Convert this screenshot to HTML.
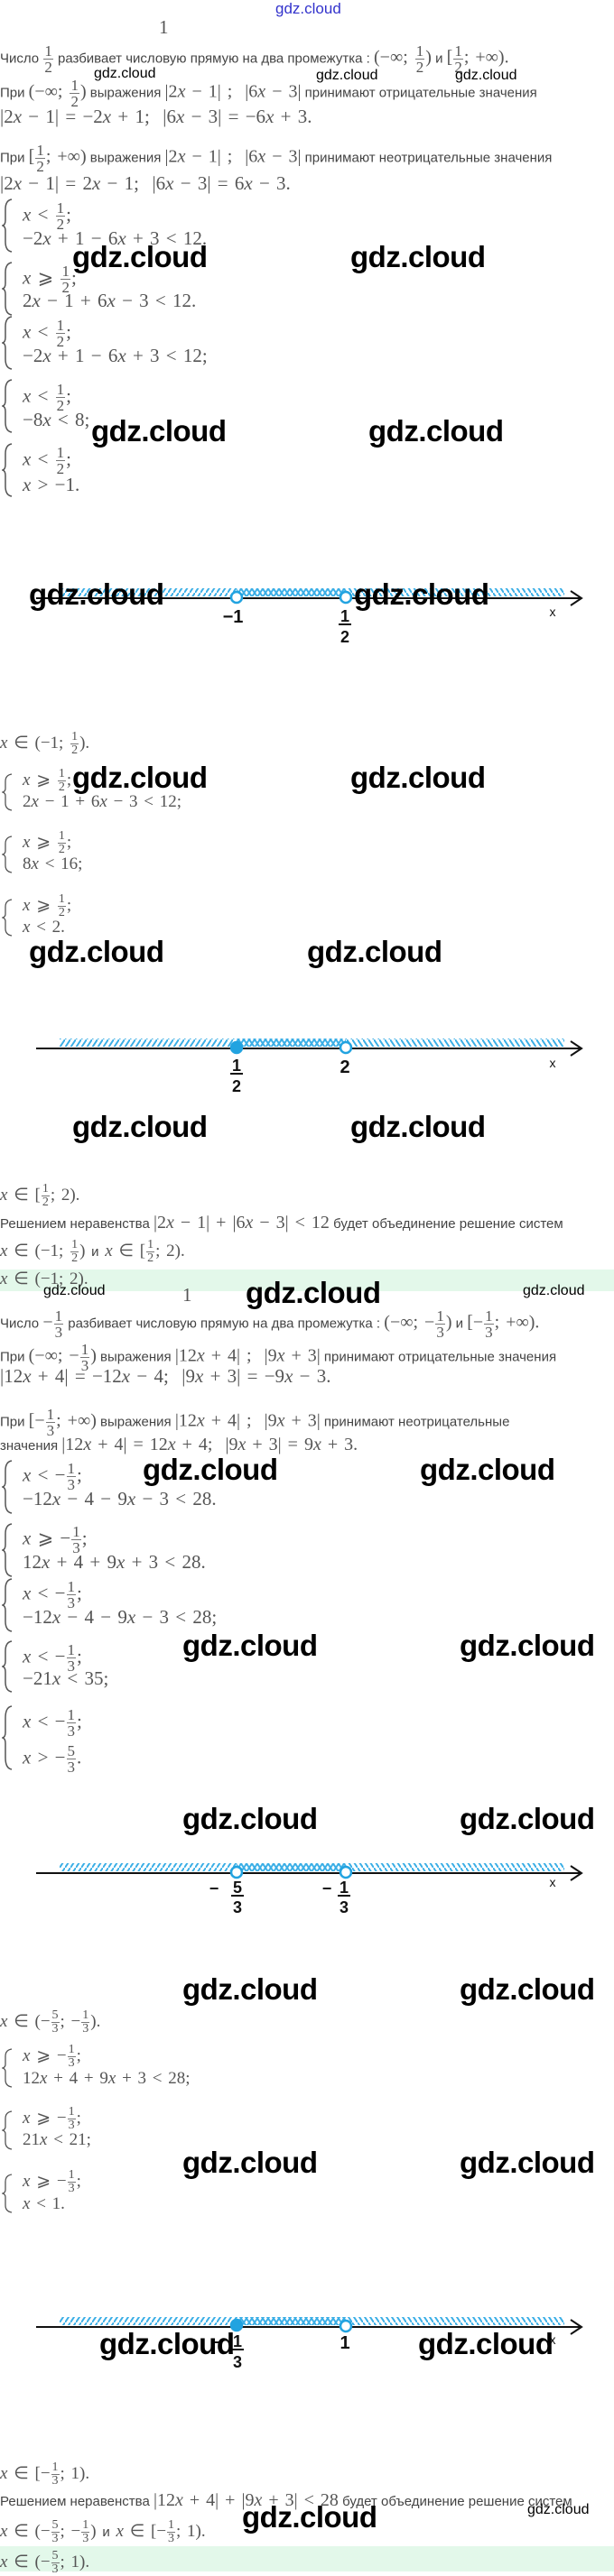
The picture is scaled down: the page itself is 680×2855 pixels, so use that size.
<!DOCTYPE html>
<html><head><meta charset="utf-8">
<style>
body{margin:0;width:680px;height:2850px;background:#fff;position:relative;overflow:hidden}
.a{position:absolute;white-space:nowrap}
.t{font:15px "Liberation Sans",sans-serif;color:#444}
.m{font-family:"Liberation Serif",serif;font-size:21px;color:#555;word-spacing:2px}
.t .m{font-size:20px}
.i{font-style:italic}
.f{display:inline-block;vertical-align:middle;text-align:center;font-family:"Liberation Serif",serif;font-size:17px;line-height:17px;color:#555;margin:0 1px}
.f span{display:block;padding:0 1px}
.f span:first-child{border-bottom:1px solid #777}
.s{font-size:19px!important}
.s .f{font-size:14px;line-height:14px}
.wb{font:bold 33px "Liberation Sans",sans-serif;color:#000;letter-spacing:-0.5px}
.ws{font:16px "Liberation Sans",sans-serif;color:#000}
.g{position:absolute;left:0;width:680px;background:#e3f8ea}
.br{position:absolute;left:2px}
</style></head><body>

<div class="a" style="left:305px;top:0;font:17px 'Liberation Sans',sans-serif;color:#33c">gdz.cloud</div>
<div class="a m" style="left:176px;top:18px">1</div>

<div class="a t" style="left:0;top:48px">Число <span class="f"><span>1</span><span>2</span></span> разбивает числовую прямую на два промежутка : <span class="m">(−∞; </span><span class="f"><span>1</span><span>2</span></span><span class="m">)</span> и <span class="m">[</span><span class="f"><span>1</span><span>2</span></span><span class="m">; +∞).</span></div>
<div class="a t" style="left:0;top:86px">При <span class="m">(−∞; </span><span class="f"><span>1</span><span>2</span></span><span class="m">)</span> выражения <span class="m">|2<i>x</i> − 1| ;&nbsp; |6<i>x</i> − 3|</span> принимают отрицательные значения</div>
<div class="a m" style="left:0;top:117px">|2<i>x</i> − 1| = −2<i>x</i> + 1;&nbsp; |6<i>x</i> − 3| = −6<i>x</i> + 3.</div>
<div class="a t" style="left:0;top:158px">При <span class="m">[</span><span class="f"><span>1</span><span>2</span></span><span class="m">; +∞)</span> выражения <span class="m">|2<i>x</i> − 1| ;&nbsp; |6<i>x</i> − 3|</span> принимают неотрицательные значения</div>
<div class="a m" style="left:0;top:191px">|2<i>x</i> − 1| = 2<i>x</i> − 1;&nbsp; |6<i>x</i> − 3| = 6<i>x</i> − 3.</div>

<svg class="br" style="top:220px" width="14" height="60"><path d="M11 1 Q4 2 4 12 L4 24 Q4 29 1 30 Q4 31 4 36 L4 48 Q4 58 11 59" fill="none" stroke="#555" stroke-width="1.5"/></svg>
<div class="a m" style="left:25px;top:222px"><i>x</i> &lt; <span class="f"><span>1</span><span>2</span></span>;</div>
<div class="a m" style="left:25px;top:252px">−2<i>x</i> + 1 − 6<i>x</i> + 3 &lt; 12.</div>

<svg class="br" style="top:290px" width="14" height="60"><path d="M11 1 Q4 2 4 12 L4 24 Q4 29 1 30 Q4 31 4 36 L4 48 Q4 58 11 59" fill="none" stroke="#555" stroke-width="1.5"/></svg>
<div class="a m" style="left:25px;top:292px"><i>x</i> ⩾ <span class="f"><span>1</span><span>2</span></span>;</div>
<div class="a m" style="left:25px;top:321px">2<i>x</i> − 1 + 6<i>x</i> − 3 &lt; 12.</div>

<svg class="br" style="top:350px" width="14" height="60"><path d="M11 1 Q4 2 4 12 L4 24 Q4 29 1 30 Q4 31 4 36 L4 48 Q4 58 11 59" fill="none" stroke="#555" stroke-width="1.5"/></svg>
<div class="a m" style="left:25px;top:352px"><i>x</i> &lt; <span class="f"><span>1</span><span>2</span></span>;</div>
<div class="a m" style="left:25px;top:382px">−2<i>x</i> + 1 − 6<i>x</i> + 3 &lt; 12;</div>

<svg class="br" style="top:420px" width="14" height="60"><path d="M11 1 Q4 2 4 12 L4 24 Q4 29 1 30 Q4 31 4 36 L4 48 Q4 58 11 59" fill="none" stroke="#555" stroke-width="1.5"/></svg>
<div class="a m" style="left:25px;top:423px"><i>x</i> &lt; <span class="f"><span>1</span><span>2</span></span>;</div>
<div class="a m" style="left:25px;top:453px">−8<i>x</i> &lt; 8;</div>

<svg class="br" style="top:491px" width="14" height="60"><path d="M11 1 Q4 2 4 12 L4 24 Q4 29 1 30 Q4 31 4 36 L4 48 Q4 58 11 59" fill="none" stroke="#555" stroke-width="1.5"/></svg>
<div class="a m" style="left:25px;top:493px"><i>x</i> &lt; <span class="f"><span>1</span><span>2</span></span>;</div>
<div class="a m" style="left:25px;top:525px"><i>x</i> &gt; −1.</div>

<div class="a ws" style="left:104px;top:73px">gdz.cloud</div>
<div class="a ws" style="left:350px;top:75px">gdz.cloud</div>
<div class="a ws" style="left:504px;top:75px">gdz.cloud</div>
<div class="a wb" style="left:80px;top:266px">gdz.cloud</div>
<div class="a wb" style="left:388px;top:266px">gdz.cloud</div>
<div class="a wb" style="left:101px;top:459px">gdz.cloud</div>
<div class="a wb" style="left:408px;top:459px">gdz.cloud</div>

<svg class="a" style="left:0;top:0" width="680" height="2850">
<defs>
<pattern id="p1" patternUnits="userSpaceOnUse" width="6" height="9"><line x1="0" y1="9" x2="6" y2="0" stroke="#3aaee6" stroke-width="2"/></pattern>
<pattern id="p2" patternUnits="userSpaceOnUse" width="6" height="9"><line x1="0" y1="0" x2="6" y2="9" stroke="#3aaee6" stroke-width="2"/></pattern>
</defs>
<g font-family="Liberation Sans,sans-serif" font-weight="bold" fill="#111">
<rect x="66" y="652" width="317" height="9" fill="url(#p1)"/>
<rect x="262" y="652" width="363" height="9" fill="url(#p2)"/>
<line x1="40" y1="663" x2="644" y2="663" stroke="#111" stroke-width="2"/>
<polyline points="632,655 644,663 632,671" fill="none" stroke="#111" stroke-width="2"/>
<circle cx="262" cy="662" r="6" fill="#fff" stroke="#22a3e0" stroke-width="2.5"/>
<circle cx="383" cy="662" r="6" fill="#fff" stroke="#22a3e0" stroke-width="2.5"/>
<text x="258" y="690" font-size="20" text-anchor="middle">−1</text>
<text x="382" y="689" font-size="18" text-anchor="middle">1</text><line x1="375" y1="692" x2="389" y2="692" stroke="#111" stroke-width="2"/><text x="382" y="712" font-size="18" text-anchor="middle">2</text>
<text x="612" y="683" font-size="14" font-weight="normal" text-anchor="middle">x</text>

<rect x="66" y="1151" width="317" height="9" fill="url(#p1)"/>
<rect x="262" y="1151" width="363" height="9" fill="url(#p2)"/>
<line x1="40" y1="1162" x2="644" y2="1162" stroke="#111" stroke-width="2"/>
<polyline points="632,1154 644,1162 632,1170" fill="none" stroke="#111" stroke-width="2"/>
<circle cx="262" cy="1161" r="6" fill="#22a3e0" stroke="#22a3e0" stroke-width="2.5"/>
<circle cx="383" cy="1161" r="6" fill="#fff" stroke="#22a3e0" stroke-width="2.5"/>
<text x="262" y="1187" font-size="18" text-anchor="middle">1</text><line x1="255" y1="1190" x2="269" y2="1190" stroke="#111" stroke-width="2"/><text x="262" y="1210" font-size="18" text-anchor="middle">2</text>
<text x="382" y="1189" font-size="20" text-anchor="middle">2</text>
<text x="612" y="1183" font-size="14" font-weight="normal" text-anchor="middle">x</text>

<rect x="66" y="2065" width="317" height="9" fill="url(#p1)"/>
<rect x="262" y="2065" width="363" height="9" fill="url(#p2)"/>
<line x1="40" y1="2076" x2="644" y2="2076" stroke="#111" stroke-width="2"/>
<polyline points="632,2068 644,2076 632,2084" fill="none" stroke="#111" stroke-width="2"/>
<circle cx="262" cy="2075" r="6" fill="#fff" stroke="#22a3e0" stroke-width="2.5"/>
<circle cx="383" cy="2075" r="6" fill="#fff" stroke="#22a3e0" stroke-width="2.5"/>
<text x="237" y="2099" font-size="18" text-anchor="middle">−</text>
<text x="263" y="2098" font-size="18" text-anchor="middle">5</text><line x1="256" y1="2101" x2="270" y2="2101" stroke="#111" stroke-width="2"/><text x="263" y="2120" font-size="18" text-anchor="middle">3</text>
<text x="362" y="2099" font-size="18" text-anchor="middle">−</text>
<text x="381" y="2098" font-size="18" text-anchor="middle">1</text><line x1="374" y1="2101" x2="388" y2="2101" stroke="#111" stroke-width="2"/><text x="381" y="2120" font-size="18" text-anchor="middle">3</text>
<text x="612" y="2091" font-size="14" font-weight="normal" text-anchor="middle">x</text>

<rect x="66" y="2568" width="317" height="9" fill="url(#p1)"/>
<rect x="262" y="2568" width="363" height="9" fill="url(#p2)"/>
<line x1="40" y1="2579" x2="644" y2="2579" stroke="#111" stroke-width="2"/>
<polyline points="632,2571 644,2579 632,2587" fill="none" stroke="#111" stroke-width="2"/>
<circle cx="262" cy="2577" r="6" fill="#22a3e0" stroke="#22a3e0" stroke-width="2.5"/>
<circle cx="383" cy="2578" r="6" fill="#fff" stroke="#22a3e0" stroke-width="2.5"/>
<text x="240" y="2602" font-size="18" text-anchor="middle">−</text>
<text x="263" y="2601" font-size="18" text-anchor="middle">1</text><line x1="256" y1="2604" x2="270" y2="2604" stroke="#111" stroke-width="2"/><text x="263" y="2624" font-size="18" text-anchor="middle">3</text>
<text x="382" y="2603" font-size="20" text-anchor="middle">1</text>
<text x="612" y="2598" font-size="14" font-weight="normal" text-anchor="middle">x</text>
</g>
</svg>

<div class="a wb" style="left:32px;top:640px">gdz.cloud</div>
<div class="a wb" style="left:392px;top:640px">gdz.cloud</div>

<div class="a m s" style="left:0;top:810px"><i>x</i> ∈ (−1; <span class="f"><span>1</span><span>2</span></span>).</div>
<svg class="br" style="top:857px" width="14" height="42"><path d="M11 1 Q4 2 4 9 L4 17 Q4 20 1 21 Q4 22 4 25 L4 33 Q4 40 11 41" fill="none" stroke="#555" stroke-width="1.3"/></svg>
<div class="a m s" style="left:25px;top:851px"><i>x</i> ⩾ <span class="f"><span>1</span><span>2</span></span>;</div>
<div class="a m s" style="left:25px;top:878px">2<i>x</i> − 1 + 6<i>x</i> − 3 &lt; 12;</div>
<svg class="br" style="top:926px" width="14" height="42"><path d="M11 1 Q4 2 4 9 L4 17 Q4 20 1 21 Q4 22 4 25 L4 33 Q4 40 11 41" fill="none" stroke="#555" stroke-width="1.3"/></svg>
<div class="a m s" style="left:25px;top:920px"><i>x</i> ⩾ <span class="f"><span>1</span><span>2</span></span>;</div>
<div class="a m s" style="left:25px;top:947px">8<i>x</i> &lt; 16;</div>
<svg class="br" style="top:996px" width="14" height="42"><path d="M11 1 Q4 2 4 9 L4 17 Q4 20 1 21 Q4 22 4 25 L4 33 Q4 40 11 41" fill="none" stroke="#555" stroke-width="1.3"/></svg>
<div class="a m s" style="left:25px;top:990px"><i>x</i> ⩾ <span class="f"><span>1</span><span>2</span></span>;</div>
<div class="a m s" style="left:25px;top:1017px"><i>x</i> &lt; 2.</div>
<div class="a wb" style="left:80px;top:843px">gdz.cloud</div>
<div class="a wb" style="left:388px;top:843px">gdz.cloud</div>
<div class="a wb" style="left:32px;top:1036px">gdz.cloud</div>
<div class="a wb" style="left:340px;top:1036px">gdz.cloud</div>
<div class="a wb" style="left:80px;top:1230px">gdz.cloud</div>
<div class="a wb" style="left:388px;top:1230px">gdz.cloud</div>

<div class="a m s" style="left:0;top:1311px"><i>x</i> ∈ [<span class="f"><span>1</span><span>2</span></span>; 2).</div>
<div class="a t" style="left:0;top:1344px">Решением неравенства <span class="m">|2<i>x</i> − 1| + |6<i>x</i> − 3| &lt; 12</span> будет объединение решение систем</div>
<div class="a m s" style="left:0;top:1373px"><i>x</i> ∈ (−1; <span class="f"><span>1</span><span>2</span></span>) <span class="t">и</span> <i>x</i> ∈ [<span class="f"><span>1</span><span>2</span></span>; 2).</div>
<div class="g" style="top:1407px;height:24px"></div>
<div class="a m s" style="left:0;top:1406px"><i>x</i> ∈ (−1; 2).</div>

<div class="a ws" style="left:48px;top:1422px">gdz.cloud</div>
<div class="a m" style="left:202px;top:1423px">1</div>
<div class="a wb" style="left:272px;top:1414px">gdz.cloud</div>
<div class="a ws" style="left:579px;top:1422px">gdz.cloud</div>
<div class="a t" style="left:0;top:1450px">Число <span class="m">−</span><span class="f"><span>1</span><span>3</span></span> разбивает числовую прямую на два промежутка : <span class="m">(−∞; −</span><span class="f"><span>1</span><span>3</span></span><span class="m">)</span> и <span class="m">[−</span><span class="f"><span>1</span><span>3</span></span><span class="m">; +∞).</span></div>
<div class="a t" style="left:0;top:1487px">При <span class="m">(−∞; −</span><span class="f"><span>1</span><span>3</span></span><span class="m">)</span> выражения <span class="m">|12<i>x</i> + 4| ;&nbsp; |9<i>x</i> + 3|</span> принимают отрицательные значения</div>
<div class="a m" style="left:0;top:1513px">|12<i>x</i> + 4| = −12<i>x</i> − 4;&nbsp; |9<i>x</i> + 3| = −9<i>x</i> − 3.</div>
<div class="a t" style="left:0;top:1559px">При <span class="m">[−</span><span class="f"><span>1</span><span>3</span></span><span class="m">; +∞)</span> выражения <span class="m">|12<i>x</i> + 4| ;&nbsp; |9<i>x</i> + 3|</span> принимают неотрицательные</div>
<div class="a t" style="left:0;top:1590px">значения <span class="m">|12<i>x</i> + 4| = 12<i>x</i> + 4;&nbsp; |9<i>x</i> + 3| = 9<i>x</i> + 3.</span></div>

<svg class="br" style="top:1618px" width="14" height="60"><path d="M11 1 Q4 2 4 12 L4 24 Q4 29 1 30 Q4 31 4 36 L4 48 Q4 58 11 59" fill="none" stroke="#555" stroke-width="1.5"/></svg>
<div class="a m" style="left:25px;top:1619px"><i>x</i> &lt; −<span class="f"><span>1</span><span>3</span></span>;</div>
<div class="a m" style="left:25px;top:1649px">−12<i>x</i> − 4 − 9<i>x</i> − 3 &lt; 28.</div>

<svg class="br" style="top:1688px" width="14" height="60"><path d="M11 1 Q4 2 4 12 L4 24 Q4 29 1 30 Q4 31 4 36 L4 48 Q4 58 11 59" fill="none" stroke="#555" stroke-width="1.5"/></svg>
<div class="a m" style="left:25px;top:1689px"><i>x</i> ⩾ −<span class="f"><span>1</span><span>3</span></span>;</div>
<div class="a m" style="left:25px;top:1719px">12<i>x</i> + 4 + 9<i>x</i> + 3 &lt; 28.</div>

<svg class="br" style="top:1749px" width="14" height="60"><path d="M11 1 Q4 2 4 12 L4 24 Q4 29 1 30 Q4 31 4 36 L4 48 Q4 58 11 59" fill="none" stroke="#555" stroke-width="1.5"/></svg>
<div class="a m" style="left:25px;top:1750px"><i>x</i> &lt; −<span class="f"><span>1</span><span>3</span></span>;</div>
<div class="a m" style="left:25px;top:1780px">−12<i>x</i> − 4 − 9<i>x</i> − 3 &lt; 28;</div>

<svg class="br" style="top:1818px" width="14" height="58"><path d="M11 1 Q4 2 4 12 L4 23 Q4 28 1 29 Q4 30 4 35 L4 46 Q4 56 11 57" fill="none" stroke="#555" stroke-width="1.5"/></svg>
<div class="a m" style="left:25px;top:1820px"><i>x</i> &lt; −<span class="f"><span>1</span><span>3</span></span>;</div>
<div class="a m" style="left:25px;top:1848px">−21<i>x</i> &lt; 35;</div>

<svg class="br" style="top:1890px" width="14" height="72"><path d="M11 1 Q4 2 4 14 L4 30 Q4 35 1 36 Q4 37 4 42 L4 58 Q4 70 11 71" fill="none" stroke="#555" stroke-width="1.5"/></svg>
<div class="a m" style="left:25px;top:1892px"><i>x</i> &lt; −<span class="f"><span>1</span><span>3</span></span>;</div>
<div class="a m" style="left:25px;top:1932px"><i>x</i> &gt; −<span class="f"><span>5</span><span>3</span></span>.</div>

<div class="a wb" style="left:158px;top:1610px">gdz.cloud</div>
<div class="a wb" style="left:465px;top:1610px">gdz.cloud</div>
<div class="a wb" style="left:202px;top:1805px">gdz.cloud</div>
<div class="a wb" style="left:509px;top:1805px">gdz.cloud</div>
<div class="a wb" style="left:202px;top:1997px">gdz.cloud</div>
<div class="a wb" style="left:509px;top:1997px">gdz.cloud</div>
<div class="a wb" style="left:202px;top:2186px">gdz.cloud</div>
<div class="a wb" style="left:509px;top:2186px">gdz.cloud</div>

<div class="a m s" style="left:0;top:2227px"><i>x</i> ∈ (−<span class="f"><span>5</span><span>3</span></span>; −<span class="f"><span>1</span><span>3</span></span>).</div>
<svg class="br" style="top:2270px" width="14" height="44"><path d="M11 1 Q4 2 4 9 L4 18 Q4 21 1 22 Q4 23 4 26 L4 35 Q4 42 11 43" fill="none" stroke="#555" stroke-width="1.3"/></svg>
<div class="a m s" style="left:25px;top:2265px"><i>x</i> ⩾ −<span class="f"><span>1</span><span>3</span></span>;</div>
<div class="a m s" style="left:25px;top:2293px">12<i>x</i> + 4 + 9<i>x</i> + 3 &lt; 28;</div>
<svg class="br" style="top:2339px" width="14" height="44"><path d="M11 1 Q4 2 4 9 L4 18 Q4 21 1 22 Q4 23 4 26 L4 35 Q4 42 11 43" fill="none" stroke="#555" stroke-width="1.3"/></svg>
<div class="a m s" style="left:25px;top:2334px"><i>x</i> ⩾ −<span class="f"><span>1</span><span>3</span></span>;</div>
<div class="a m s" style="left:25px;top:2361px">21<i>x</i> &lt; 21;</div>
<svg class="br" style="top:2409px" width="14" height="44"><path d="M11 1 Q4 2 4 9 L4 18 Q4 21 1 22 Q4 23 4 26 L4 35 Q4 42 11 43" fill="none" stroke="#555" stroke-width="1.3"/></svg>
<div class="a m s" style="left:25px;top:2404px"><i>x</i> ⩾ −<span class="f"><span>1</span><span>3</span></span>;</div>
<div class="a m s" style="left:25px;top:2432px"><i>x</i> &lt; 1.</div>
<div class="a wb" style="left:202px;top:2378px">gdz.cloud</div>
<div class="a wb" style="left:509px;top:2378px">gdz.cloud</div>

<div class="a wb" style="left:110px;top:2579px">gdz.cloud</div>
<div class="a wb" style="left:463px;top:2579px">gdz.cloud</div>

<div class="a m s" style="left:0;top:2728px"><i>x</i> ∈ [−<span class="f"><span>1</span><span>3</span></span>; 1).</div>
<div class="a t" style="left:0;top:2760px">Решением неравенства <span class="m">|12<i>x</i> + 4| + |9<i>x</i> + 3| &lt; 28</span> будет объединение решение систем</div>
<div class="a m s" style="left:0;top:2792px"><i>x</i> ∈ (−<span class="f"><span>5</span><span>3</span></span>; −<span class="f"><span>1</span><span>3</span></span>) <span class="t">и</span> <i>x</i> ∈ [−<span class="f"><span>1</span><span>3</span></span>; 1).</div>
<div class="a wb" style="left:268px;top:2771px">gdz.cloud</div>
<div class="a ws" style="left:584px;top:2773px">gdz.cloud</div>
<div class="g" style="top:2822px;height:28px"></div>
<div class="a m s" style="left:0;top:2826px"><i>x</i> ∈ (−<span class="f"><span>5</span><span>3</span></span>; 1).</div>
</body></html>
